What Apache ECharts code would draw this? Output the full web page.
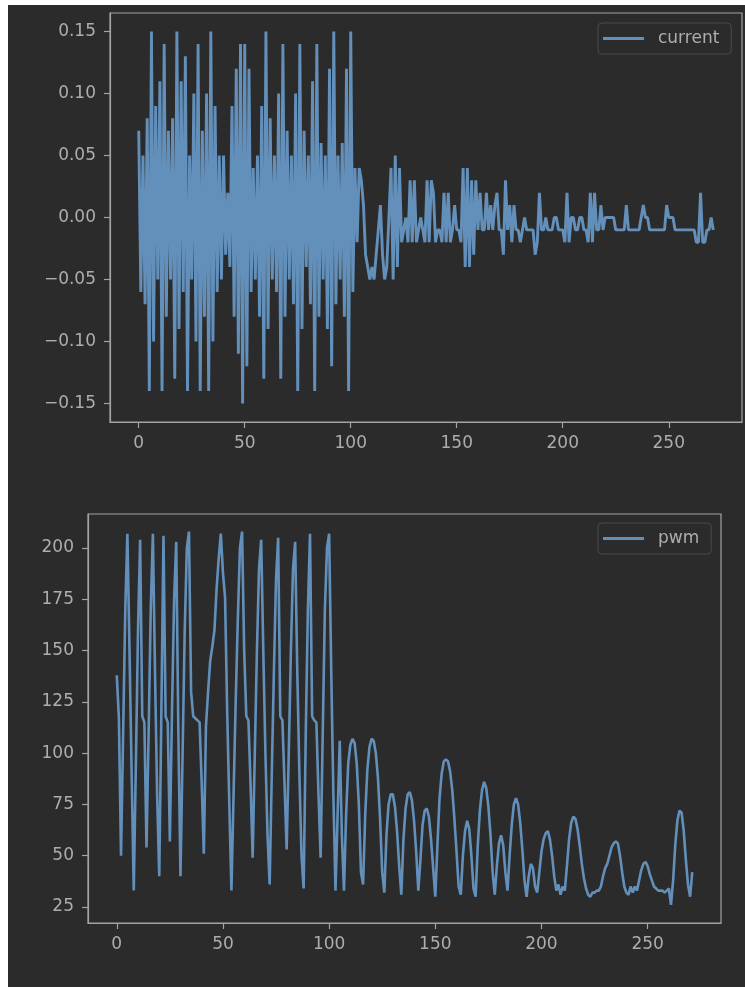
<!DOCTYPE html>
<html>
<head>
<meta charset="utf-8">
<script src="https://cdn.jsdelivr.net/npm/echarts@6/dist/echarts.min.js"></script>
<style>
  html, body { margin: 0; padding: 0; background: #ffffff; }
  #panel { position: absolute; left: 8px; top: 5px; width: 737px; height: 982px; background: #2b2b2b; }
  #chart { position: absolute; left: 0; top: 0; width: 745px; height: 989px; }
</style>
</head>
<body>
<div id="panel"></div>
<div id="chart"></div>
<script>
// Motor current and PWM duty samples (index 0..271)
const current = [
  0.07, -0.06, 0.05, -0.07, 0.08, -0.14, 0.15, -0.10, 0.09, -0.05,
  0.11, -0.14, 0.14, -0.08, 0.07, -0.05, 0.08, -0.13, 0.15, -0.09,
  0.11, -0.06, 0.13, -0.14, 0.05, -0.05, 0.10, -0.10, 0.14, -0.14,
  0.07, -0.08, 0.10, -0.14, 0.15, -0.10, 0.09, -0.06, 0.05, -0.05,
  0.05, -0.03, 0.02, -0.04, 0.09, -0.08, 0.12, -0.11, 0.14, -0.15,
  0.14, -0.12, 0.12, -0.06, 0.04, -0.05, 0.05, -0.08, 0.09, -0.13,
  0.15, -0.09, 0.08, -0.05, 0.05, -0.06, 0.10, -0.13, 0.14, -0.08,
  0.07, -0.05, 0.05, -0.07, 0.10, -0.14, 0.14, -0.09, 0.07, -0.04,
  0.05, -0.07, 0.11, -0.14, 0.14, -0.08, 0.06, -0.05, 0.05, -0.09,
  0.12, -0.12, 0.15, -0.07, 0.05, -0.05, 0.06, -0.08, 0.12, -0.14,
  0.15, -0.06, 0.04, -0.02, 0.04, 0.03, 0.01, -0.03, -0.04, -0.05,
  -0.04, -0.05, -0.03, -0.01, 0.01, -0.03, -0.05, -0.04, 0.00, 0.04,
  -0.05, 0.05, -0.04, 0.04, -0.02, -0.01, 0.00, -0.02, 0.03, -0.02,
  0.03, -0.02, -0.01, 0.00, -0.01, -0.02, 0.03, -0.02, 0.03, 0.02,
  -0.02, -0.01, -0.01, -0.02, 0.02, -0.02, 0.02, -0.02, -0.01, 0.01,
  -0.01, -0.01, -0.02, 0.04, -0.04, 0.04, -0.04, 0.03, -0.03, 0.03,
  -0.01, 0.02, -0.01, -0.01, 0.02, -0.01, 0.01, -0.01, 0.01, 0.02,
  -0.01, -0.01, -0.03, 0.03, -0.01, 0.01, -0.02, 0.01, -0.01, -0.01,
  -0.02, -0.01, 0.00, -0.01, -0.01, -0.01, -0.01, -0.03, -0.02, 0.02,
  -0.01, -0.01, 0.00, -0.01, -0.01, -0.01, 0.00, 0.00, -0.01, -0.01,
  -0.01, -0.02, 0.02, -0.02, 0.00, 0.00, -0.01, -0.01, 0.00, 0.00,
  -0.01, -0.01, -0.02, 0.02, -0.02, 0.02, -0.01, -0.01, 0.01, -0.01,
  0.00, 0.00, 0.00, 0.00, 0.00, -0.01, -0.01, -0.01, -0.01, -0.01,
  0.01, -0.01, -0.01, -0.01, -0.01, -0.01, -0.01, 0.00, 0.01, 0.00,
  0.00, -0.01, -0.01, -0.01, -0.01, -0.01, -0.01, -0.01, -0.01, 0.01,
  0.00, 0.00, 0.00, -0.01, -0.01, -0.01, -0.01, -0.01, -0.01, -0.01,
  -0.01, -0.01, -0.01, -0.02, -0.02, 0.02, -0.02, -0.02, -0.01, -0.01,
  0.00, -0.01
];

const pwm = [
  138, 117, 50, 110, 170, 207, 150, 90, 33, 95,
  160, 204, 118, 115, 54, 110, 170, 207, 140, 80,
  40, 120, 206, 118, 115, 57, 120, 175, 203, 110,
  40, 100, 160, 200, 208, 130, 118, 117, 116, 115,
  85, 51, 113, 130, 145, 152, 160, 180, 195, 207,
  188, 176, 120, 75, 33, 80, 125, 165, 200, 208,
  150, 118, 116, 85, 49, 100, 150, 190, 204, 150,
  100, 60, 36, 90, 140, 185, 205, 118, 116, 85,
  53, 100, 150, 190, 203, 140, 90, 50, 34, 110,
  170, 207, 118, 116, 115, 80, 49, 110, 170, 200,
  207, 140, 80, 33, 70, 106, 60, 33, 70, 95,
  104, 107, 105, 95, 75, 42, 36, 70, 92, 103,
  107, 106, 100, 88, 68, 42, 32, 60, 75, 80,
  80, 74, 62, 45, 31, 58, 73, 80, 81, 77,
  67, 52, 33, 48, 65, 72, 73, 69, 58, 44,
  30, 55, 78, 90, 96, 97, 96, 91, 82, 68,
  52, 35, 31, 50, 62, 67, 63, 50, 34, 30,
  55, 72, 82, 86, 83, 74, 60, 42, 31, 45,
  56, 60, 55, 42, 33, 50, 65, 75, 78, 75,
  66, 53, 38, 30, 40, 46, 44, 35, 32, 42,
  52, 58, 61, 62, 58, 50, 40, 33, 36, 31,
  35, 33, 45, 58, 66, 69, 68, 63, 55, 46,
  39, 34, 31, 30, 32, 32, 33, 33, 35, 40,
  44, 46, 50, 54, 56, 57, 56, 50, 42, 35,
  32, 31, 35, 32, 35, 33, 38, 43, 46, 47,
  45, 41, 38, 35, 34, 33, 33, 33, 32, 33,
  34, 26, 38, 55, 67, 72, 71, 62, 48, 36,
  30, 42
];

// Tick positions
const xTicks = [0, 50, 100, 150, 200, 250];
const currentTicks = [-0.15, -0.10, -0.05, 0.00, 0.05, 0.10, 0.15];
const pwmTicks = [25, 50, 75, 100, 125, 150, 175, 200];

const LINE = '#6390ba';
const FRAME = '#a3a3a3';
const TEXT = '#adadad';
const BG = '#2b2b2b';
const FONT = 'DejaVu Sans';

function xAxisFor(grid) {
  return {
    gridIndex: grid, type: 'value', min: -13.55, max: 284.55,
    splitLine: { show: false },
    axisLine: { show: true, onZero: false, lineStyle: { color: FRAME, width: 1.2 } },
    axisTick: { show: true, length: 6, customValues: xTicks, lineStyle: { color: FRAME, width: 1.2 } },
    axisLabel: { customValues: xTicks, color: TEXT, fontSize: 17, fontFamily: FONT, margin: 13 }
  };
}

function yAxisFor(grid, min, max, ticks, fmt) {
  return {
    gridIndex: grid, type: 'value', min: min, max: max,
    splitLine: { show: false },
    axisLine: { show: true, onZero: false, lineStyle: { color: FRAME, width: 1.2 } },
    axisTick: { show: true, length: 6, customValues: ticks, lineStyle: { color: FRAME, width: 1.2 } },
    axisLabel: { customValues: ticks, color: TEXT, fontSize: 17, fontFamily: FONT, margin: 14, formatter: fmt }
  };
}

function legendFor(name, left, top) {
  return {
    data: [name], left: left, top: top, icon: 'rect', itemWidth: 41, itemHeight: 3,
    padding: [7, 12, 7, 5], borderColor: '#4a4a4a', borderWidth: 1, borderRadius: 4,
    backgroundColor: BG,
    textStyle: { color: TEXT, fontSize: 17, fontFamily: FONT, padding: [0, 0, 0, 9] }
  };
}

const chart = echarts.init(document.getElementById('chart'), null, { renderer: 'canvas' });
chart.setOption({
  animation: false,
  backgroundColor: 'transparent',
  grid: [
    { left: 110, top: 13, width: 632, height: 409, show: true, borderColor: FRAME, borderWidth: 1.2 },
    { left: 88, top: 514, width: 633, height: 409, show: true, borderColor: FRAME, borderWidth: 1.2 }
  ],
  xAxis: [xAxisFor(0), xAxisFor(1)],
  yAxis: [
    yAxisFor(0, -0.165, 0.165, currentTicks, v => v.toFixed(2).replace('-', '\u2212')),
    yAxisFor(1, 17.2, 216.6, pwmTicks, v => String(Math.round(v)))
  ],
  legend: [legendFor('current', 598, 23), legendFor('pwm', 598, 523)],
  series: [
    {
      name: 'current', type: 'line', xAxisIndex: 0, yAxisIndex: 0,
      data: current.map((v, i) => [i, v]),
      symbol: 'none', showSymbol: false,
      lineStyle: { color: LINE, width: 2.9 }, itemStyle: { color: LINE }
    },
    {
      name: 'pwm', type: 'line', xAxisIndex: 1, yAxisIndex: 1,
      data: pwm.map((v, i) => [i, v]),
      symbol: 'none', showSymbol: false,
      lineStyle: { color: LINE, width: 2.6 }, itemStyle: { color: LINE }
    }
  ]
});
</script>
</body>
</html>
